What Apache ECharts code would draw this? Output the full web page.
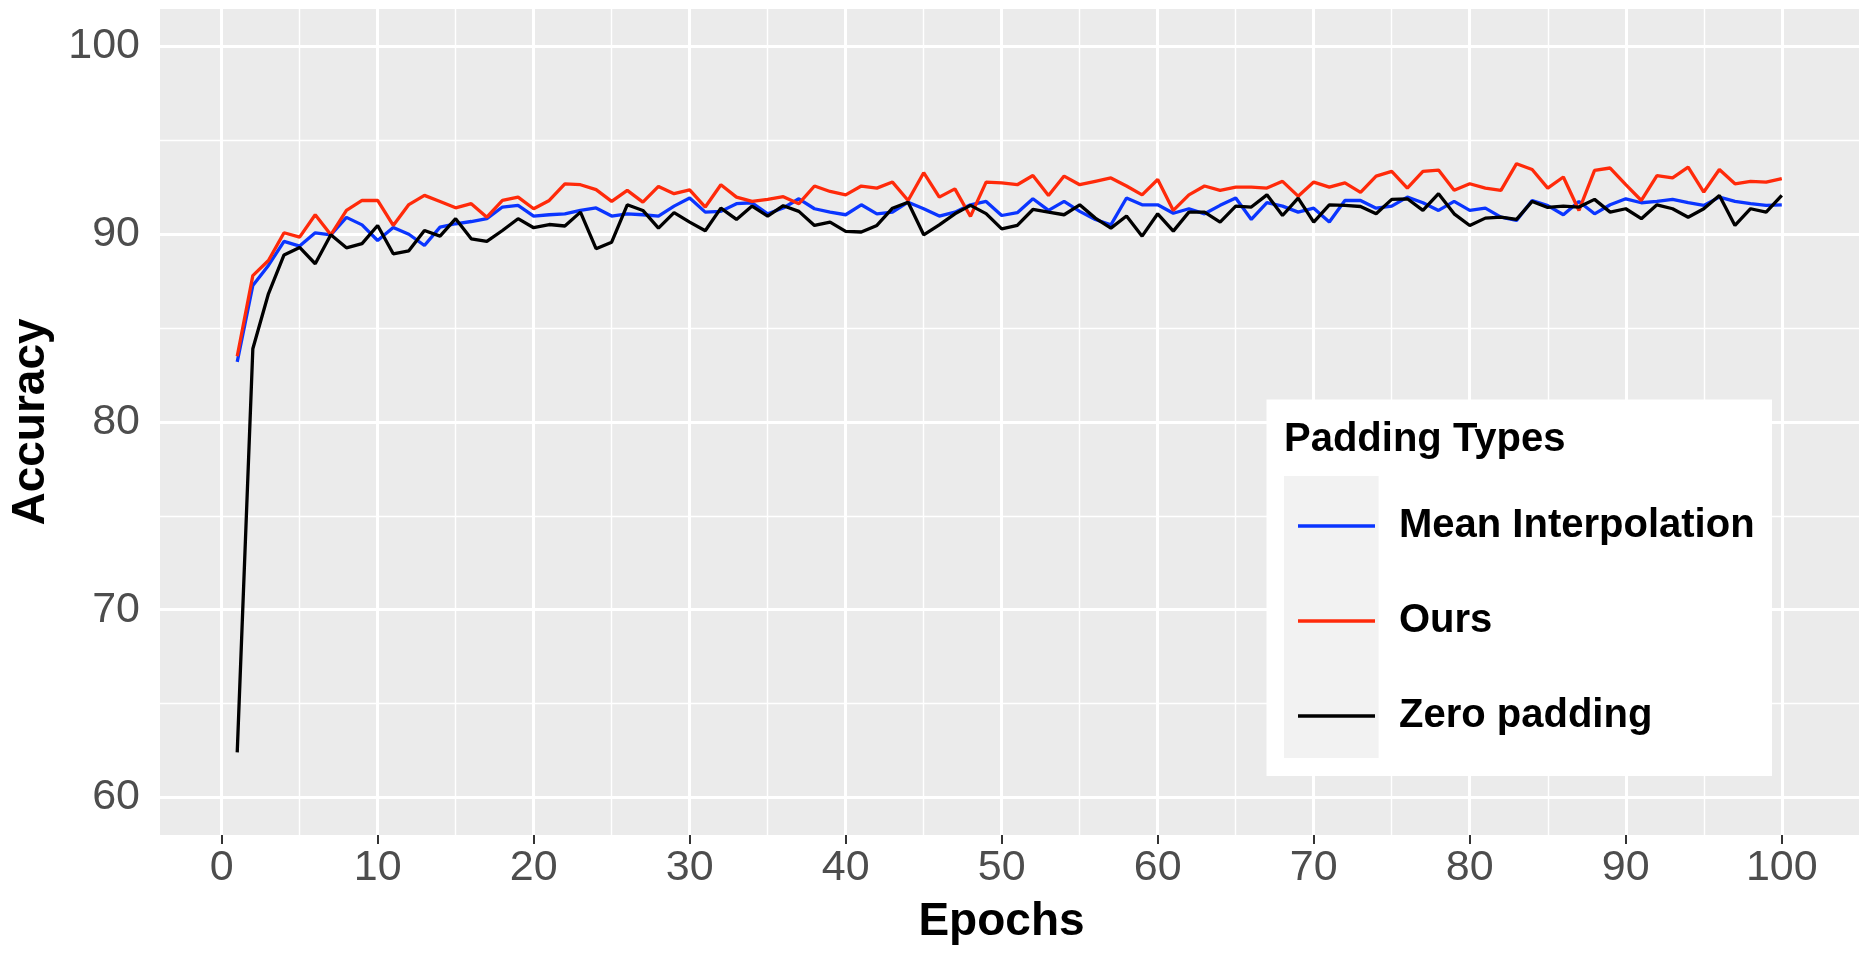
<!DOCTYPE html>
<html>
<head>
<meta charset="utf-8">
<script src="https://cdn.jsdelivr.net/npm/echarts@6/dist/echarts.min.js"></script>
<style>
html,body{margin:0;padding:0;background:#fff;}
#chart{width:1870px;height:954px;}
</style>
</head>
<body>
<div id="chart"></div>
<script>
var epochs = [];
for (var i = 1; i <= 100; i++) epochs.push(i);

var meanInterpolation = [
83.2,87.27,88.34,89.62,89.37,90.08,89.97,90.9,90.5,89.67,
90.36,90.0,89.4,90.38,90.56,90.68,90.83,91.45,91.54,90.97,
91.04,91.09,91.27,91.4,90.97,91.09,91.04,90.97,91.5,91.93,
91.18,91.22,91.63,91.68,91.09,91.4,91.89,91.36,91.18,91.04,
91.57,91.09,91.18,91.71,91.36,90.97,91.18,91.57,91.75,91.0,
91.15,91.89,91.27,91.75,91.22,90.79,90.5,91.93,91.57,91.57,
91.12,91.36,91.09,91.54,91.93,90.79,91.68,91.5,91.18,91.39,
90.65,91.8,91.8,91.39,91.5,91.98,91.68,91.27,91.75,91.27,
91.39,90.91,90.74,91.8,91.53,91.04,91.75,91.09,91.57,91.89,
91.68,91.75,91.86,91.68,91.54,91.98,91.75,91.63,91.54,91.57];

var ours = [
83.5,87.8,88.6,90.08,89.85,91.04,89.97,91.27,91.8,91.8,
90.47,91.58,92.07,91.75,91.41,91.63,90.91,91.8,91.98,91.36,
91.8,92.69,92.64,92.38,91.75,92.34,91.71,92.55,92.16,92.37,
91.45,92.64,91.98,91.75,91.86,92.0,91.63,92.57,92.28,92.1,
92.57,92.46,92.78,91.8,93.28,91.98,92.42,90.95,92.78,92.74,
92.64,93.13,92.07,93.1,92.64,92.82,93.0,92.57,92.1,92.92,
91.27,92.1,92.57,92.34,92.51,92.51,92.46,92.82,92.03,92.78,
92.51,92.74,92.23,93.1,93.35,92.46,93.35,93.42,92.34,92.69,
92.46,92.34,93.76,93.45,92.46,93.05,91.27,93.4,93.53,92.64,
91.8,93.13,93.0,93.58,92.25,93.45,92.69,92.82,92.78,92.96];

var zeroPadding = [
62.4,83.9,86.83,88.9,89.3,88.43,89.97,89.28,89.5,90.47,
88.96,89.12,90.2,89.9,90.83,89.76,89.62,90.2,90.83,90.35,
90.52,90.44,91.18,89.23,89.58,91.57,91.27,90.33,91.15,90.65,
90.19,91.39,90.79,91.5,90.97,91.52,91.22,90.47,90.65,90.15,
90.12,90.47,91.39,91.71,89.97,90.5,91.09,91.54,91.1,90.29,
90.47,91.32,91.18,91.04,91.57,90.86,90.33,90.97,89.9,91.09,
90.17,91.18,91.18,90.65,91.5,91.45,92.1,91.0,91.93,90.65,
91.57,91.54,91.48,91.09,91.86,91.89,91.27,92.16,91.09,90.47,
90.86,90.91,90.79,91.75,91.43,91.5,91.45,91.86,91.18,91.36,
90.83,91.57,91.36,90.91,91.36,92.07,90.47,91.36,91.18,92.07];

var xTicks = [0,10,20,30,40,50,60,70,80,90,100];
var xMinor = [5,15,25,35,45,55,65,75,85,95];
var yTicks = [60,70,80,90,100];
var yMinor = [65,75,85,95];

var seriesNames = ['Mean Interpolation','Ours','Zero padding'];
var seriesColors = ['#0a35ff','#ff2a0a','#000000'];
var seriesData = [meanInterpolation, ours, zeroPadding];

var FONT = "'Liberation Sans', Arial, Helvetica, sans-serif";

function pairs(arr){ return epochs.map(function(e, i){ return [e, arr[i]]; }); }

var gridLines = [];
xTicks.forEach(function(v){ gridLines.push({xAxis: v, lineStyle:{width:3}}); });
xMinor.forEach(function(v){ gridLines.push({xAxis: v, lineStyle:{width:1.4}}); });
yTicks.forEach(function(v){ gridLines.push({yAxis: v, lineStyle:{width:3}}); });
yMinor.forEach(function(v){ gridLines.push({yAxis: v, lineStyle:{width:1.4}}); });

var series = [{
  type: 'line',
  name: '__grid',
  data: [],
  silent: true,
  z: 1,
  markLine: {
    silent: true,
    symbol: ['none','none'],
    label: {show: false},
    animation: false,
    z: 1,
    lineStyle: {color: '#ffffff', type: 'solid'},
    emphasis: {disabled: true},
    data: gridLines
  }
}];
seriesNames.forEach(function(n, i){
  series.push({
    type: 'line',
    name: n,
    data: pairs(seriesData[i]),
    showSymbol: false,
    symbol: 'none',
    z: 3,
    lineStyle: {color: seriesColors[i], width: 3.3},
    itemStyle: {color: seriesColors[i]},
    emphasis: {disabled: true},
    animation: false
  });
});

var chart = echarts.init(document.getElementById('chart'), null, {renderer:'canvas'});
chart.setOption({
  animation: false,
  backgroundColor: '#ffffff',
  grid: {left: 157.5, right: 11, top: 9, bottom: 119, show: true, backgroundColor: '#EBEBEB', borderWidth: 0},
  xAxis: {
    type: 'value', min: -3.95, max: 104.95,
    name: 'Epochs', nameLocation: 'middle', nameGap: 64,
    nameTextStyle: {fontFamily: FONT, fontWeight: 'bold', fontSize: 46, color: '#000', padding: [0,16,0,0]},
    axisLine: {show: false},
    axisTick: {show: true, length: 9, lineStyle: {color: '#333333', width: 2}, customValues: xTicks},
    axisLabel: {fontFamily: FONT, fontSize: 43, color: '#4D4D4D', margin: 12, customValues: xTicks},
    splitLine: {show: false}
  },
  yAxis: {
    type: 'value', min: 58, max: 102,
    name: 'Accuracy', nameLocation: 'middle', nameGap: 106, nameRotate: 90,
    nameTextStyle: {fontFamily: FONT, fontWeight: 'bold', fontSize: 46, color: '#000'},
    axisLine: {show: false},
    axisTick: {show: true, length: 9, lineStyle: {color: '#333333', width: 2}, customValues: yTicks},
    axisLabel: {fontFamily: FONT, fontSize: 43, color: '#4D4D4D', margin: 20, customValues: yTicks},
    splitLine: {show: false}
  },
  legend: {
    data: seriesNames,
    orient: 'vertical',
    left: 1293, top: 501,
    icon: 'rect',
    itemWidth: 77, itemHeight: 3.4, itemGap: 55,
    selectedMode: false,
    z: 20,
    textStyle: {fontFamily: FONT, fontWeight: 'bold', fontSize: 40, color: '#000', lineHeight: 40, padding: [0,0,0,19]}
  },
  graphic: [
    {type: 'rect', z: 10, silent: true, shape: {x: 1266.5, y: 399.5, width: 505.5, height: 376.5}, style: {fill: '#ffffff'}},
    {type: 'rect', z: 11, silent: true, shape: {x: 1284, y: 476, width: 94.6, height: 282}, style: {fill: '#F2F2F2'}},
    {type: 'text', z: 12, silent: true, x: 1284, y: 439.5, style: {text: 'Padding Types', font: "bold 40px 'Liberation Sans', Arial, sans-serif", fill: '#000', verticalAlign: 'middle', align: 'left'}}
  ],
  series: series
});
</script>
</body>
</html>
